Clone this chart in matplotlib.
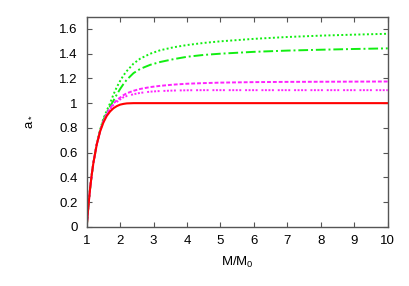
import matplotlib
matplotlib.use("Agg")
import matplotlib.pyplot as plt

plt.rcParams["font.family"] = ["Liberation Sans", "DejaVu Sans"]
plt.rcParams["mathtext.fontset"] = "custom"
plt.rcParams["mathtext.rm"] = "Liberation Sans"
plt.rcParams["mathtext.it"] = "Liberation Sans"
plt.rcParams["mathtext.default"] = "regular"

# M/M0 grid
m = [1.0, 1.05, 1.1, 1.15, 1.2, 1.3, 1.4, 1.5, 1.6, 1.7, 1.8, 1.9, 2.0,
     2.1, 2.2, 2.4, 2.6, 2.9, 3.2, 3.6, 4.0, 4.5, 5.0, 6.0, 7.0, 8.0, 9.0, 10.0]

a_red = [0.0, 0.167, 0.306, 0.421, 0.517, 0.665, 0.770, 0.844, 0.897, 0.933,
         0.959, 0.976, 0.988, 0.994, 0.998, 1.0, 1.0, 1.0, 1.0, 1.0, 1.0,
         1.0, 1.0, 1.0, 1.0, 1.0, 1.0, 1.0]
a_green_hi = [0.0, 0.167, 0.306, 0.421, 0.518, 0.670, 0.785, 0.875, 0.940,
              1.000, 1.070, 1.130, 1.180, 1.225, 1.260, 1.320, 1.360, 1.400,
              1.428, 1.452, 1.470, 1.487, 1.500, 1.520, 1.535, 1.546, 1.554,
              1.561]
a_green_lo = [0.0, 0.167, 0.306, 0.421, 0.518, 0.668, 0.780, 0.865, 0.925,
              0.975, 1.020, 1.070, 1.115, 1.155, 1.190, 1.243, 1.277, 1.310,
              1.333, 1.356, 1.375, 1.390, 1.400, 1.415, 1.425, 1.432, 1.438,
              1.443]
a_mag_hi = [0.0, 0.167, 0.306, 0.421, 0.517, 0.666, 0.775, 0.855, 0.915,
            0.960, 0.995, 1.025, 1.045, 1.065, 1.080, 1.100, 1.115, 1.130,
            1.140, 1.150, 1.157, 1.162, 1.166, 1.170, 1.172, 1.173, 1.174,
            1.175]
a_mag_lo = [0.0, 0.167, 0.306, 0.421, 0.517, 0.665, 0.773, 0.850, 0.908,
            0.950, 0.985, 1.010, 1.030, 1.048, 1.058, 1.072, 1.083, 1.093,
            1.098, 1.102, 1.104, 1.105, 1.105, 1.105, 1.105, 1.105, 1.105,
            1.105]

xticks = list(range(1, 11))
yticks = [0, 0.2, 0.4, 0.6, 0.8, 1, 1.2, 1.4, 1.6]
ytick_labels = ["0", "0.2", "0.4", "0.6", "0.8", "1", "1.2", "1.4", "1.6"]

fig = plt.figure(figsize=(4.09, 2.86), dpi=100)
ax = fig.add_axes([0.212, 0.207, 0.736, 0.735])

green = "#11ee11"
magenta = "#ff22ff"
ax.plot(m, a_green_hi, color=green, lw=1.4, linestyle=(0, (1, 1.2)))
ax.plot(m, a_green_lo, color=green, lw=1.4, linestyle=(0, (5, 1.5, 1, 1.5)))
ax.plot(m, a_mag_hi, color=magenta, lw=1.4, linestyle=(0, (2, 1)))
ax.plot(m, a_mag_lo, color=magenta, lw=1.4, linestyle=(0, (1, 0.8, 1, 0.8, 1, 0.8, 1, 2)))
ax.plot(m, a_red, color="#ff0000", lw=1.5)

ax.set_xlim(1, 10)
ax.set_ylim(0, 1.7)
ax.set_xticks(xticks)
ax.set_yticks(yticks, labels=ytick_labels)
ax.tick_params(direction="in", length=3.5, width=0.8, color="#555555",
               top=True, right=True, labelsize=9.5)
ax.tick_params(axis="y", pad=6.5)
ax.tick_params(axis="x", pad=6)
for sp in ax.spines.values():
    sp.set_color("#555555")
    sp.set_linewidth(1.0)

ax.set_xlabel("M/M$_0$", fontsize=9.5, va="center")
ax.xaxis.set_label_coords(0.5, -0.168)
ax.set_ylabel("a$_*$", fontsize=9.5, va="center")
ax.yaxis.set_label_coords(-0.195, 0.5)

fig.savefig("out.png", dpi=100)
